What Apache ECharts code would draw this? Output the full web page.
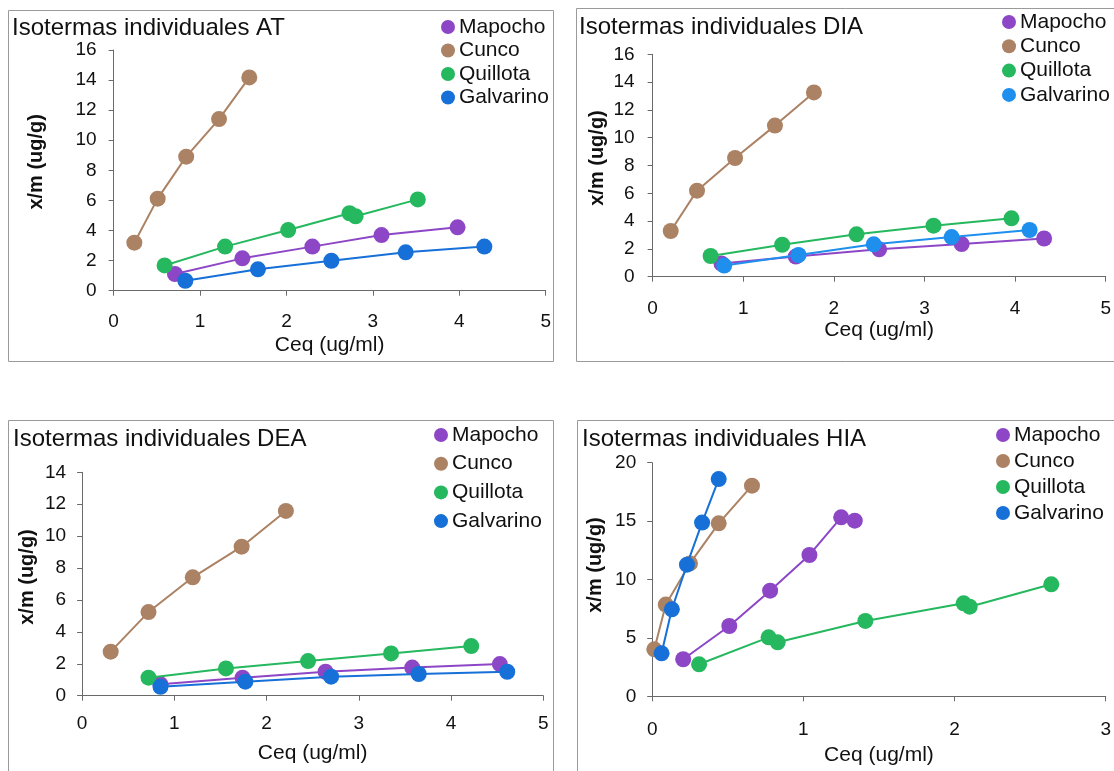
<!DOCTYPE html>
<html>
<head>
<meta charset="utf-8">
<script src="https://cdn.jsdelivr.net/npm/echarts@6/dist/echarts.min.js"></script>
<style>
html,body{margin:0;padding:0;background:#fff;}
#c{width:1114px;height:771px;}
</style>
</head>
<body>
<div id="c"></div>
<script>
// ---- data: [Ceq (ug/ml), x/m (ug/g)] ----
const seriesNames = ['Mapocho', 'Cunco', 'Quillota', 'Galvarino'];
const panelTitles = ['Isotermas individuales AT', 'Isotermas individuales DIA', 'Isotermas individuales DEA', 'Isotermas individuales HIA'];
const xAxisName = 'Ceq (ug/ml)';
const yAxisName = 'x/m (ug/g)';

const AT_Mapocho   = [[0.71,1.11],[1.49,2.15],[2.30,2.93],[3.10,3.70],[3.98,4.21]];
const AT_Cunco     = [[0.24,3.19],[0.51,6.12],[0.84,8.91],[1.22,11.41],[1.57,14.18]];
const AT_Quillota  = [[0.59,1.68],[1.29,2.93],[2.02,4.03],[2.73,5.15],[2.80,4.95],[3.52,6.07]];
const AT_Galvarino = [[0.83,0.66],[1.67,1.42],[2.52,1.99],[3.38,2.55],[4.29,2.93]];

const DIA_Mapocho   = [[0.76,0.95],[1.58,1.45],[2.50,1.97],[3.41,2.35],[4.32,2.75]];
const DIA_Cunco     = [[0.20,3.29],[0.49,6.19],[0.91,8.54],[1.35,10.87],[1.78,13.26]];
const DIA_Quillota  = [[0.64,1.49],[1.43,2.30],[2.25,3.05],[3.10,3.67],[3.96,4.20]];
const DIA_Galvarino = [[0.79,0.80],[1.61,1.56],[2.44,2.33],[3.30,2.85],[4.16,3.36]];

const DEA_Mapocho   = [[0.85,0.71],[1.74,1.13],[2.64,1.50],[3.58,1.76],[4.53,1.98]];
const DEA_Cunco     = [[0.31,2.76],[0.72,5.24],[1.20,7.42],[1.73,9.34],[2.21,11.58]];
const DEA_Quillota  = [[0.72,1.13],[1.56,1.71],[2.45,2.17],[3.35,2.65],[4.22,3.11]];
const DEA_Galvarino = [[0.85,0.56],[1.77,0.88],[2.70,1.19],[3.65,1.36],[4.61,1.50]];

const HIA_Mapocho   = [[0.205,3.17],[0.51,6.02],[0.78,9.04],[1.04,12.10],[1.25,15.32],[1.34,15.04]];
const HIA_Cunco     = [[0.014,4.02],[0.09,7.85],[0.25,11.38],[0.44,14.81],[0.66,18.03]];
const HIA_Quillota  = [[0.31,2.74],[0.77,5.05],[0.83,4.62],[1.41,6.45],[2.06,7.96],[2.10,7.67],[2.64,9.59]];
const HIA_Galvarino = [[0.062,3.68],[0.13,7.45],[0.23,11.27],[0.33,14.87],[0.44,18.60]];

const xMax = [5, 5, 5, 3];
const yMax = [16, 16, 14, 20];
const yInterval = [2, 2, 2, 5];

const panelData = [
  [AT_Mapocho, AT_Cunco, AT_Quillota, AT_Galvarino],
  [DIA_Mapocho, DIA_Cunco, DIA_Quillota, DIA_Galvarino],
  [DEA_Mapocho, DEA_Cunco, DEA_Quillota, DEA_Galvarino],
  [HIA_Mapocho, HIA_Cunco, HIA_Quillota, HIA_Galvarino]
];

// ---- styling / layout ----
const FONT = '"Liberation Sans", Arial, sans-serif';
const panelColors = [
  ['#8d47c6', '#ac8264', '#25b85e', '#1670d8'],
  ['#8d47c6', '#ac8264', '#25b85e', '#1f8fee'],
  ['#8d47c6', '#ac8264', '#25b85e', '#1670d8'],
  ['#8d47c6', '#ac8264', '#25b85e', '#1670d8']
];
const grids = [
  {left: 113.6, top: 50, width: 432.1, height: 240.7},
  {left: 652.6, top: 54.3, width: 454.4, height: 222.4},
  {left: 82.1, top: 472.3, width: 461.1, height: 223.4},
  {left: 652.2, top: 462.7, width: 459, height: 233.6}
];
const titlePos = [{left: 12, top: 16}, {left: 579, top: 15}, {left: 13, top: 427}, {left: 582, top: 427}];
const legendPos = [
  {left: 441, top: 16.5, gap: 2.5},
  {left: 1002, top: 11.5, gap: 3.3},
  {left: 434, top: 424.5, gap: 7.7},
  {left: 996, top: 424.5, gap: 5}
];
const xLabelMargin = [22, 23, 19, 24];
const yLabelMargin = [17, 18, 16, 16];
const xNameGap = [44, 40, 47, 48];
const yNameGap = [67, 45, 45, 47];
const yNamePad = [17, 15, 14, 29];

const option = {
  backgroundColor: '#fff',
  animation: false,
  title: [], legend: [], grid: [], xAxis: [], yAxis: [], series: [],
  graphic: [
    {type: 'rect', shape: {x: 8.5, y: 10.5, width: 545, height: 351}, style: {fill: 'none', stroke: '#9a9a9a', lineWidth: 1}, z: 0},
    {type: 'rect', shape: {x: 576.5, y: 8.5, width: 560, height: 353}, style: {fill: 'none', stroke: '#9a9a9a', lineWidth: 1}, z: 0},
    {type: 'rect', shape: {x: 8.5, y: 420.5, width: 545, height: 380}, style: {fill: 'none', stroke: '#9a9a9a', lineWidth: 1}, z: 0},
    {type: 'rect', shape: {x: 577.5, y: 420.5, width: 560, height: 380}, style: {fill: 'none', stroke: '#9a9a9a', lineWidth: 1}, z: 0}
  ]
};

for (let p = 0; p < 4; p++) {
  option.title.push({
    text: panelTitles[p], left: titlePos[p].left, top: titlePos[p].top, padding: 0,
    textStyle: {fontFamily: FONT, fontSize: 24, fontWeight: 'normal', color: '#111'}
  });
  option.legend.push({
    orient: 'vertical', left: legendPos[p].left, top: legendPos[p].top, padding: 0,
    itemGap: legendPos[p].gap, itemWidth: 14, itemHeight: 14, icon: 'circle',
    data: seriesNames.map((n, i) => ({name: n, itemStyle: {color: panelColors[p][i]}})),
    textStyle: {fontFamily: FONT, fontSize: 21, color: '#111', padding: [0, 0, 0, -1]},
    selectedMode: false
  });
  option.grid.push(Object.assign({containLabel: false}, grids[p]));
  option.xAxis.push({
    type: 'value', gridIndex: p, min: 0, max: xMax[p], interval: 1,
    name: xAxisName, nameLocation: 'middle', nameGap: xNameGap[p],
    nameTextStyle: {fontFamily: FONT, fontSize: 21, color: '#111'},
    axisLine: {show: true, onZero: false, lineStyle: {color: '#6a6a6a', width: 1}},
    axisTick: {show: true, length: 5, lineStyle: {color: '#6a6a6a'}},
    axisLabel: {fontFamily: FONT, fontSize: 19, color: '#111', margin: xLabelMargin[p]},
    splitLine: {show: false}
  });
  option.yAxis.push({
    type: 'value', gridIndex: p, min: 0, max: yMax[p], interval: yInterval[p],
    name: yAxisName, nameLocation: 'middle', nameGap: yNameGap[p],
    nameTextStyle: {fontFamily: FONT, fontSize: 20, fontWeight: 'bold', color: '#111', padding: [0, 0, 0, yNamePad[p]]},
    axisLine: {show: true, lineStyle: {color: '#6a6a6a', width: 1}},
    axisTick: {show: true, length: 5, lineStyle: {color: '#6a6a6a'}},
    axisLabel: {fontFamily: FONT, fontSize: 19, color: '#111', margin: yLabelMargin[p]},
    splitLine: {show: false}
  });
  for (let s = 0; s < 4; s++) {
    option.series.push({
      type: 'line', name: seriesNames[s], xAxisIndex: p, yAxisIndex: p,
      data: panelData[p][s],
      symbol: 'circle', symbolSize: 16,
      itemStyle: {color: panelColors[p][s]},
      lineStyle: {color: panelColors[p][s], width: 2},
      z: 2 + s
    });
  }
}

const chart = echarts.init(document.getElementById('c'), null, {renderer: 'canvas'});
chart.setOption(option);
</script>
</body>
</html>
